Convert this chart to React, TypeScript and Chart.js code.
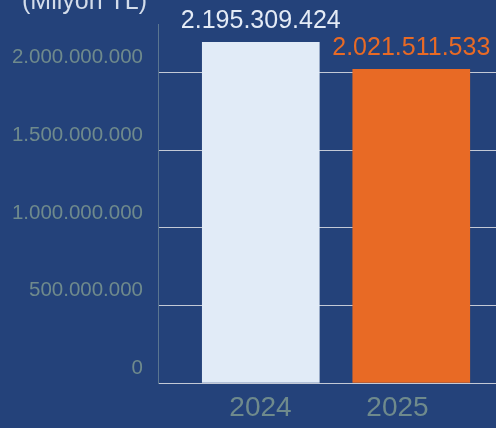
import React, { useEffect, useRef } from "react";
import { Chart, registerables } from "chart.js";

Chart.register(...registerables);

const categories = ["2024", "2025"];
const values = [2195309424, 2021511533];
const barColors = ["#e1ebf7", "#e86a25"];
const valueLabelColors = ["#e4ebf6", "#e86a25"];
const unitLabel = "(Milyon TL)";
const yTicks = [0, 500000000, 1000000000, 1500000000, 2000000000];
const yMax = 2314000000;

const FONT = '"Liberation Sans", Arial, sans-serif';

function fmt(n: number): string {
  return Math.round(n)
    .toString()
    .replace(/\B(?=(\d{3})+(?!\d))/g, ".");
}

const labelsPlugin = {
  id: "valueLabels",
  afterDatasetsDraw(chart: any) {
    const ctx = chart.ctx;
    const meta = chart.getDatasetMeta(0);
    ctx.save();
    ctx.font = `25px ${FONT}`;
    ctx.textAlign = "center";
    ctx.textBaseline = "alphabetic";
    meta.data.forEach((bar: any, i: number) => {
      ctx.fillStyle = valueLabelColors[i];
      ctx.fillText(fmt(values[i]), bar.x, bar.y - 14);
    });
    ctx.textAlign = "left";
    ctx.fillStyle = "#d3dcea";
    ctx.fillText(unitLabel, 22, 9);
    ctx.restore();
  },
};

export default function App() {
  const ref = useRef<HTMLCanvasElement>(null);
  useEffect(() => {
    if (!ref.current) return;
    const chart = new Chart(ref.current, {
      type: "bar",
      data: {
        datasets: [
          {
            data: values.map((v, i) => ({ x: i, y: v })),
            backgroundColor: barColors,
            borderWidth: 0,
            barThickness: 117,
            xAxisID: "x",
            yAxisID: "y",
          },
        ],
      },
      options: {
        responsive: false,
        animation: false,
        devicePixelRatio: 1,
        layout: { padding: { top: 24, left: 0, right: 0, bottom: 0 } },
        plugins: { legend: { display: false }, tooltip: { enabled: false } },
        scales: {
          x: {
            type: "linear",
            display: false,
            min: -0.683,
            max: 1.563,
            offset: false,
          },
          xl: {
            type: "linear",
            position: "bottom",
            min: -0.748,
            max: 1.719,
            offset: false,
            grid: { display: false },
            border: { display: false },
            ticks: {
              autoSkip: false,
              maxRotation: 0,
              padding: 0,
              color: "#6f8a8c",
              font: { family: FONT, size: 28 },
              callback: (v: any) => categories[v as number] ?? "",
            },
            afterBuildTicks: (s: any) => {
              s.ticks = categories.map((_, i) => ({ value: i }));
            },
            afterFit: (s: any) => {
              s.height = 45;
              s.paddingLeft = 0;
              s.paddingRight = 0;
            },
          },
          y: {
            type: "linear",
            min: 0,
            max: yMax,
            grid: { color: "#c3c9d6", lineWidth: 1, drawTicks: false },
            border: { display: true, color: "#5a7590", width: 1 },
            ticks: {
              padding: 15,
              labelOffset: -15,
              color: "#6f8a8c",
              font: { family: FONT, size: 20.5 },
              callback: (v: any) => fmt(v as number),
            },
            afterBuildTicks: (s: any) => {
              s.ticks = yTicks.map((v) => ({ value: v }));
            },
            afterFit: (s: any) => {
              s.width = 158;
              s.paddingTop = 0;
              s.paddingBottom = 0;
            },
          },
        },
      },
      plugins: [labelsPlugin],
    });
    return () => chart.destroy();
  }, []);
  return (
    <div
      style={{
        position: "fixed",
        left: 0,
        top: 0,
        width: 496,
        height: 428,
        background: "#24427a",
        overflow: "hidden",
      }}
    >
      <canvas ref={ref} width={496} height={428} style={{ display: "block" }} />
    </div>
  );
}
